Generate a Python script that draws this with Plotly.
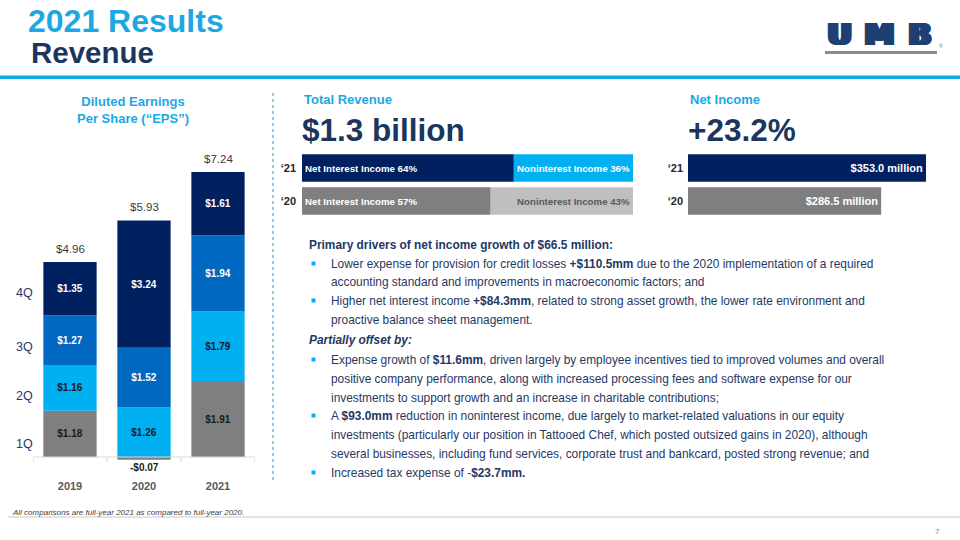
import plotly.graph_objects as go

W, H = 960, 540

# ---------------- data ----------------
years = ["2019", "2020", "2021"]
q1 = [1.18, -0.07, 1.91]
q2 = [1.16, 1.26, 1.79]
q3 = [1.27, 1.52, 1.94]
q4 = [1.35, 3.24, 1.61]
eps_totals = [4.96, 5.93, 7.24]
quarter_names = ["1Q", "2Q", "3Q", "4Q"]

rev_years = ["\u201820", "\u201821"]
nii_pct = [57, 64]
nonii_pct = [43, 36]

ni_years = ["\u201820", "\u201821"]
net_income = [286.5, 353.0]

body_lines = [
    ("head", "<b>Primary drivers of net income growth of $66.5 million:</b>"),
    ("bullet", "Lower expense for provision for credit losses <b>+$110.5mm</b> due to the 2020 implementation of a required"),
    ("cont", "accounting standard and improvements in macroeconomic factors; and"),
    ("bullet", "Higher net interest income <b>+$84.3mm</b>, related to strong asset growth, the lower rate environment and"),
    ("cont", "proactive balance sheet management."),
    ("head", "<b><i>Partially offset by:</i></b>"),
    ("bullet", "Expense growth of <b>$11.6mm</b>, driven largely by employee incentives tied to improved volumes and overall"),
    ("cont", "positive company performance, along with increased processing fees and software expense for our"),
    ("cont", "investments to support growth and an increase in charitable contributions;"),
    ("bullet", "A <b>$93.0mm</b> reduction in noninterest income, due largely to market-related valuations in our equity"),
    ("cont", "investments (particularly our position in Tattooed Chef, which posted outsized gains in 2020), although"),
    ("cont", "several businesses, including fund services, corporate trust and bankcard, posted strong revenue; and"),
    ("bullet", "Increased tax expense of -<b>$23.7mm.</b>"),
]
body_y = [245, 264, 282, 301, 320, 340, 360, 379, 398, 416, 435, 454, 473]

# ---------------- styles ----------------
FONT = "Liberation Sans, Arial, sans-serif"
NAVY = "#002060"
LBLUE = "#00b0f0"
MBLUE = "#0068c0"
GRAY = "#7f7f7f"
LGRAY = "#bfbfbf"
TXT = "#1f3864"
TITLE_BLUE = "#1ba8e3"
TITLE_NAVY = "#1b365d"
LOGO = "#1d3f73"


def px(x):
    return x / W


def py(y):
    return 1 - y / H


fig = go.Figure()

# ---------------- EPS stacked bars ----------------
q_colors = [GRAY, LBLUE, MBLUE, NAVY]
q_text_colors = ["#1a1a1a", "#1a1a1a", "white", "white"]
for name, vals, col, tcol in zip(quarter_names, [q1, q2, q3, q4], q_colors, q_text_colors):
    fig.add_trace(go.Bar(
        x=years, y=vals, name=name, marker=dict(color=col, line=dict(width=0)),
        width=0.72,
        text=[f"${v:.2f}" if v > 0.2 else "" for v in vals],
        textposition="inside", insidetextanchor="middle", textangle=0,
        textfont=dict(family=FONT, size=10, color=tcol, weight="bold"),
        constraintext="none",
        xaxis="x", yaxis="y", showlegend=False, hoverinfo="skip",
    ))

# ---------------- Revenue mix bars ----------------
fig.add_trace(go.Bar(
    y=rev_years, x=nii_pct, orientation="h", width=0.84,
    marker=dict(color=[GRAY, NAVY], line=dict(width=0)),
    text=[f"Net Interest Income {v}%" for v in nii_pct],
    textposition="inside", insidetextanchor="start", textangle=0, constraintext="none",
    textfont=dict(family=FONT, size=9.7, color="white", weight="bold"),
    xaxis="x2", yaxis="y2", showlegend=False, hoverinfo="skip",
))
fig.add_trace(go.Bar(
    y=rev_years, x=nonii_pct, orientation="h", width=0.84,
    marker=dict(color=[LGRAY, LBLUE], line=dict(width=0)),
    text=[f"Noninterest Income {v}%" for v in nonii_pct],
    textposition="inside", insidetextanchor="end", textangle=0, constraintext="none",
    textfont=dict(family=FONT, size=9.7, color=["#595959", "white"], weight="bold"),
    xaxis="x2", yaxis="y2", showlegend=False, hoverinfo="skip",
))

# ---------------- Net income bars ----------------
fig.add_trace(go.Bar(
    y=ni_years, x=net_income, orientation="h", width=0.84,
    marker=dict(color=[GRAY, NAVY], line=dict(width=0)),
    text=[f"${v:.1f} million" for v in net_income],
    textposition="inside", insidetextanchor="end", textangle=0, constraintext="none",
    textfont=dict(family=FONT, size=11, color="white", weight="bold"),
    xaxis="x3", yaxis="y3", showlegend=False, hoverinfo="skip",
))

# ---------------- axes ----------------
eps_px = 39.3
eps_bottom, eps_top = 478, 140
eps_zero = 457
fig.update_layout(
    xaxis=dict(domain=[px(33), px(255)], type="category", categoryorder="array",
               categoryarray=years, range=[-0.5, len(years) - 0.5], autorange=False,
               showgrid=False, zeroline=False, showline=False, ticks="", automargin=False,
               tickfont=dict(family=FONT, size=11, color="#595959", weight="bold"),
               fixedrange=True),
    yaxis=dict(domain=[py(eps_bottom), py(eps_top)], autorange=False,
               range=[-(eps_bottom - eps_zero) / eps_px, (eps_zero - eps_top) / eps_px],
               visible=False, fixedrange=True, automargin=False),
    xaxis2=dict(domain=[px(302), px(633)], range=[0, 100], autorange=False, visible=False,
                anchor="y2", automargin=False),
    yaxis2=dict(domain=[py(217.5), py(151.5)], anchor="x2", type="category", showgrid=False,
                zeroline=False, showline=False, ticks="", ticklabelstandoff=5, automargin=False,
                tickfont=dict(family=FONT, size=11, color="#262626", weight="bold")),
    xaxis3=dict(domain=[px(688), px(926)], range=[0, 353], autorange=False, visible=False,
                anchor="y3", automargin=False),
    yaxis3=dict(domain=[py(217.5), py(151.5)], anchor="x3", type="category", showgrid=False,
                zeroline=False, showline=False, ticks="", ticklabelstandoff=4, automargin=False,
                tickfont=dict(family=FONT, size=11, color="#262626", weight="bold")),
    barmode="relative",
    width=W, height=H, margin=dict(l=0, r=0, t=0, b=0, pad=0, autoexpand=False),
    paper_bgcolor="white", plot_bgcolor="rgba(0,0,0,0)",
    font=dict(family=FONT),
)

shapes = []
annotations = []

# EPS baseline and boundary ticks (category index coordinates)
shapes.append(dict(type="line", xref="x", yref="y", x0=-0.5, x1=len(years) - 0.5, y0=0, y1=0,
                   line=dict(color="#d9d9d9", width=1)))
for i in range(len(years) + 1):
    b = i - 0.5
    shapes.append(dict(type="line", xref="x", yref="y", x0=b, x1=b, y0=0, y1=-0.14,
                       line=dict(color="#d9d9d9", width=1)))

# totals above EPS bars
pos_tops = [sum(v for v in vals if v > 0) for vals in zip(q1, q2, q3, q4)]
for i, (top, tot) in enumerate(zip(pos_tops, eps_totals)):
    annotations.append(dict(x=i, y=top, xref="x", yref="y", yanchor="bottom", yshift=5,
                            text=f"${tot:.2f}", showarrow=False,
                            font=dict(family=FONT, size=11.5, color="#3a3a3a")))
# negative label
for i, v in enumerate(q1):
    if v < 0:
        annotations.append(dict(x=i, y=v, xref="x", yref="y", yanchor="top", yshift=0,
                                text=f"<b>-${abs(v):.2f}</b>", showarrow=False,
                                font=dict(family=FONT, size=10, color="#1a1a1a")))

# quarter legend labels
for name, yy in zip(["4Q", "3Q", "2Q", "1Q"], [293, 347, 396, 444]):
    annotations.append(dict(x=px(24), y=py(yy), xref="paper", yref="paper", text=name,
                            showarrow=False, xanchor="center", yanchor="middle",
                            font=dict(family=FONT, size=12.5, color=TXT)))

# EPS title
annotations.append(dict(x=px(133), y=py(110), xref="paper", yref="paper",
                        text="<b>Diluted Earnings<br>Per Share (\u201cEPS\u201d)</b>",
                        showarrow=False, xanchor="center", yanchor="middle", align="center",
                        font=dict(family=FONT, size=13, color=TITLE_BLUE)))

# dotted divider
shapes.append(dict(type="line", xref="paper", yref="paper", x0=px(273), x1=px(273),
                   y0=py(93), y1=py(482), line=dict(color="#5bbfe8", width=1.5, dash="dot")))

# slide titles
annotations.append(dict(x=px(26), y=py(21), xref="paper", yref="paper", text="<b>2021 Results</b>",
                        showarrow=False, xanchor="left", yanchor="middle",
                        font=dict(family=FONT, size=32, color=TITLE_BLUE)))
annotations.append(dict(x=px(29), y=py(52), xref="paper", yref="paper", text="<b>Revenue</b>",
                        showarrow=False, xanchor="left", yanchor="middle",
                        font=dict(family=FONT, size=29.5, color=TITLE_NAVY)))
shapes.append(dict(type="rect", xref="paper", yref="paper", x0=0, x1=1, y0=py(79), y1=py(75.5),
                   fillcolor="#12aae6", line=dict(width=0)))

# logo (heavy, wide lettering)
logo_shadow = ", ".join(f"{d}px 0 0 {LOGO}" for d in (1, 2, 3, 4, 5))
for letter, cx in zip("UMB", [837, 877, 917]):
    annotations.append(dict(x=px(cx), y=py(34), xref="paper", yref="paper", text=f"<b>{letter}</b>",
                            showarrow=False, xanchor="center", yanchor="middle",
                            font=dict(family="DejaVu Sans", size=30, color=LOGO,
                                      shadow=logo_shadow)))
annotations.append(dict(x=px(941), y=py(46), xref="paper", yref="paper", text="\u00ae",
                        showarrow=False, xanchor="center", yanchor="middle",
                        font=dict(family=FONT, size=5, color="#777777")))
shapes.append(dict(type="rect", xref="paper", yref="paper", x0=px(825), x1=px(937),
                   y0=py(54), y1=py(51), fillcolor="#8c8c8c", line=dict(width=0)))

# section headings
for x0, t1, t2 in [(302, "Total Revenue", "$1.3 billion"), (688, "Net Income", "+23.2%")]:
    annotations.append(dict(x=px(x0), y=py(100), xref="paper", yref="paper", text=f"<b>{t1}</b>",
                            showarrow=False, xanchor="left", yanchor="middle",
                            font=dict(family=FONT, size=13, color=TITLE_BLUE)))
    annotations.append(dict(x=px(x0 - 2), y=py(130), xref="paper", yref="paper", text=f"<b>{t2}</b>",
                            showarrow=False, xanchor="left", yanchor="middle",
                            font=dict(family=FONT, size=31.5, color=TITLE_NAVY)))

# body text
for (kind, line), yy in zip(body_lines, body_y):
    x0 = 307 if kind == "head" else 329
    annotations.append(dict(x=px(x0), y=py(yy), xref="paper", yref="paper", text=line,
                            showarrow=False, xanchor="left", yanchor="middle", align="left",
                            font=dict(family=FONT, size=11.9, color=TXT)))
    if kind == "bullet":
        shapes.append(dict(type="rect", xref="paper", yref="paper", x0=px(311.5), x1=px(315.5),
                           y0=py(yy + 1.5), y1=py(yy - 2.5), fillcolor=LBLUE, line=dict(width=0)))

# footer
annotations.append(dict(x=px(10), y=py(512), xref="paper", yref="paper",
                        text="<i>All comparisons are full-year 2021 as compared to full-year 2020.</i>",
                        showarrow=False, xanchor="left", yanchor="middle",
                        font=dict(family=FONT, size=8, color="#404040")))
shapes.append(dict(type="line", xref="paper", yref="paper", x0=px(8), x1=1, y0=py(517), y1=py(517),
                   line=dict(color="#c8c8c8", width=1)))
annotations.append(dict(x=px(937), y=py(531), xref="paper", yref="paper", text="7",
                        showarrow=False, xanchor="center", yanchor="middle",
                        font=dict(family=FONT, size=8, color="#7f7f7f")))

fig.update_layout(shapes=shapes, annotations=annotations)
fig.write_html(
    "out.html",
    config={"displayModeBar": False},
    post_script="document.body.style.margin='0';document.body.style.overflow='hidden';",
)
